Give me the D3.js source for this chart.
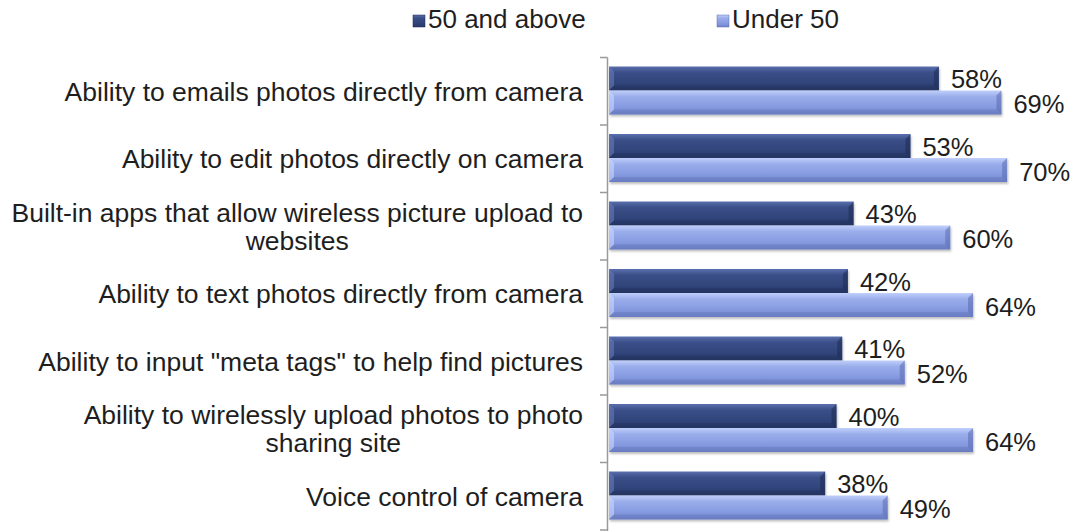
<!DOCTYPE html>
<html>
<head>
<meta charset="utf-8">
<script src="https://cdn.jsdelivr.net/npm/d3@7"></script>
<style>
  html, body { margin: 0; padding: 0; background: #fff; }
  svg { display: block; font-family: "Liberation Sans", Arial, sans-serif; }
</style>
</head>
<body>
<svg id="chart" width="1075" height="531"></svg>
<script>
// Feature labels (lines split where the label wraps)
const categories = [
  ["Ability to emails photos directly from camera"],
  ["Ability to edit photos directly on camera"],
  ["Built-in apps that allow wireless picture upload to", "websites"],
  ["Ability to text photos directly from camera"],
  ["Ability to input \"meta tags\" to help find pictures"],
  ["Ability to wirelessly upload photos to photo", "sharing site"],
  ["Voice control of camera"]
];
const seriesNames = ["50 and above", "Under 50"];
const over50 = [58, 53, 43, 42, 41, 40, 38];
const under50 = [69, 70, 60, 64, 52, 64, 49];
const seriesValues = [over50, under50];

const svg = d3.select("#chart");
const defs = svg.append("defs");

const palette = [
  { id: "gDark", stops: ["#5a6fae", "#3b4f88", "#30447a", "#273a68"], light: "#6a80c0", dark: "#1d2b52" },
  { id: "gLight", stops: ["#c0cffa", "#9aaeeb", "#8599e0", "#7083ca"], light: "#cfdcff", dark: "#5b6cb0" }
];
palette.forEach(p => {
  const g = defs.append("linearGradient").attr("id", p.id)
    .attr("x1", 0).attr("y1", 0).attr("x2", 0).attr("y2", 1);
  [0, 0.25, 0.7, 1].forEach((o, i) => g.append("stop").attr("offset", o).attr("stop-color", p.stops[i]));
});
const shadow = defs.append("filter").attr("id", "shadow")
  .attr("x", "-5%").attr("y", "-20%").attr("width", "110%").attr("height", "160%");
shadow.append("feDropShadow").attr("dx", 1).attr("dy", 2).attr("stdDeviation", 1.2)
  .attr("flood-color", "#000").attr("flood-opacity", 0.25);

const x = d3.scaleLinear().domain([0, 80]).range([609, 1064]);
const y = d3.scaleBand().domain(d3.range(categories.length)).range([57.5, 530]).paddingInner(0).paddingOuter(0);
const ySub = d3.scaleBand().domain([0, 1]).range([9, 57]);

// Vertical axis line with ticks at band boundaries
const axisG = svg.append("g");
axisG.append("line")
  .attr("x1", 607.5).attr("x2", 607.5)
  .attr("y1", y(0)).attr("y2", 531)
  .attr("stroke", "#9a9a9a").attr("stroke-width", 1.5);
axisG.selectAll("line.tick")
  .data(d3.range(categories.length + 1))
  .join("line").attr("class", "tick")
  .attr("x1", 600).attr("x2", 607.5)
  .attr("y1", i => y.range()[0] + i * y.step())
  .attr("y2", i => y.range()[0] + i * y.step())
  .attr("stroke", "#9a9a9a").attr("stroke-width", 1.5);

// Category labels, right-aligned block, lines centered within block
const labelRight = 583;
const fs = 26.5, lh = 28;
const catG = svg.append("g").attr("font-size", fs).attr("fill", "#1e1e1e");
categories.forEach((lines, i) => {
  const cy = y(i) + y.bandwidth() / 2;
  const t = catG.append("text");
  lines.forEach((ln, j) => {
    t.append("tspan").text(ln)
      .attr("y", cy + (j - (lines.length - 1) / 2) * lh + 9.5);
  });
  // measure widest line, then center each line within the block
  const widths = t.selectAll("tspan").nodes().map(n => n.getComputedTextLength());
  const w = d3.max(widths);
  t.selectAll("tspan").attr("text-anchor", "middle").attr("x", labelRight - w / 2);
});

// Bars
const barsG = svg.append("g");
seriesValues.forEach((vals, s) => {
  const p = palette[s];
  vals.forEach((v, i) => {
    const x0 = x(0), x1 = x(v);
    const y0 = y(i) + ySub(s), h = ySub.bandwidth(), y1 = y0 + h;
    const g = barsG.append("g");
    g.append("rect").attr("x", x0).attr("y", y0).attr("width", x1 - x0).attr("height", h)
      .attr("fill", `url(#${p.id})`).attr("filter", "url(#shadow)");
    const b = 5;
    // bevelled ends
    g.append("polygon")
      .attr("points", [[x0, y0], [x0 + b, y0 + b], [x0 + b, y1 - b], [x0, y1]].join(" "))
      .attr("fill", p.light).attr("opacity", 0.55);
    g.append("polygon")
      .attr("points", [[x1, y0], [x1 - b, y0 + b], [x1 - b, y1 - b], [x1, y1]].join(" "))
      .attr("fill", p.dark).attr("opacity", 0.55);
    g.append("polygon")
      .attr("points", [[x0, y1], [x0 + b, y1 - b], [x1 - b, y1 - b], [x1, y1]].join(" "))
      .attr("fill", p.dark).attr("opacity", 0.3);
  });
});

// Value labels
const valG = svg.append("g").attr("font-size", 25.5).attr("fill", "#1e1e1e");
seriesValues.forEach((vals, s) => {
  valG.selectAll(null).data(vals).join("text")
    .attr("x", d => x(d) + 12)
    .attr("y", (d, i) => y(i) + ySub(s) + ySub.bandwidth() / 2 + 9.5 + s)
    .text(d => d + "%");
});

// Legend
const legendItems = [{ sx: 413, tx: 428 }, { sx: 717, tx: 732 }];
const legG = svg.append("g").attr("font-size", 26).attr("fill", "#1e1e1e");
seriesNames.forEach((name, s) => {
  legG.append("rect").attr("x", legendItems[s].sx).attr("y", 15).attr("width", 12).attr("height", 12)
    .attr("fill", `url(#${palette[s].id})`).attr("stroke", palette[s].dark).attr("stroke-width", 0.5);
  legG.append("text").attr("x", legendItems[s].tx).attr("y", 28).text(name);
});
</script>
</body>
</html>
